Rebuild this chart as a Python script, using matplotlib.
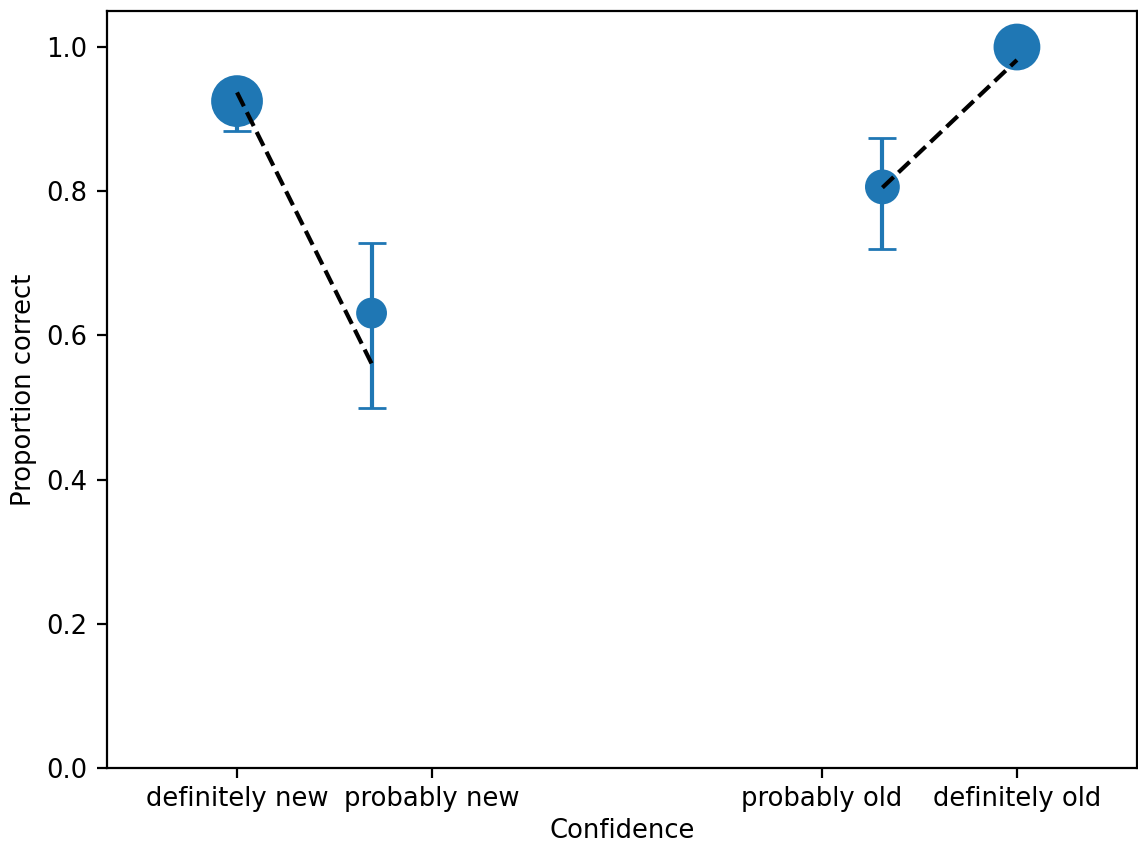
import matplotlib
matplotlib.use("Agg")
import matplotlib.pyplot as plt

# confidence ratings: mean position, proportion correct, CI bounds, marker area
tick_pos = [-2, -1, 1, 2]
tick_labels = ["definitely new", "probably new", "probably old", "definitely old"]

conf_x = [-2.0, -1.31, 1.31, 2.0]
prop_correct = [0.925, 0.631, 0.806, 1.0]
ci_low = [0.883, 0.499, 0.720, 1.0]
ci_high = [0.945, 0.728, 0.874, 1.0]
marker_area = [311, 102, 133, 251]

# fitted lines for the "new" and "old" halves
fit_new_x = [-2.0, -1.31]
fit_new_y = [0.937, 0.561]
fit_old_x = [1.31, 2.0]
fit_old_y = [0.805, 0.982]

plt.rcParams["font.size"] = 9.3

fig = plt.figure(figsize=(5.69, 4.22), dpi=200)
ax = fig.add_axes([0.094, 0.090, 0.905, 0.897])

yerr = [[p - lo for p, lo in zip(prop_correct, ci_low)],
        [hi - p for p, hi in zip(prop_correct, ci_high)]]
ax.errorbar(conf_x, prop_correct, yerr=yerr, fmt="none", ecolor="C0",
            capsize=5, elinewidth=1.5, zorder=2)
ax.scatter(conf_x, prop_correct, s=marker_area, color="C0", zorder=3)

ax.plot(fit_new_x, fit_new_y, "k--", zorder=4)
ax.plot(fit_old_x, fit_old_y, "k--", zorder=4)

ax.set_xticks(tick_pos)
ax.set_xticklabels(tick_labels)
ax.tick_params(axis="x", pad=3)
ax.set_xlim(-2.667, 2.615)
ax.set_ylim(0, 1.05)
ax.set_xlabel("Confidence", labelpad=2)
ax.set_ylabel("Proportion correct", labelpad=3.5)

fig.savefig("out.png", dpi=200)
